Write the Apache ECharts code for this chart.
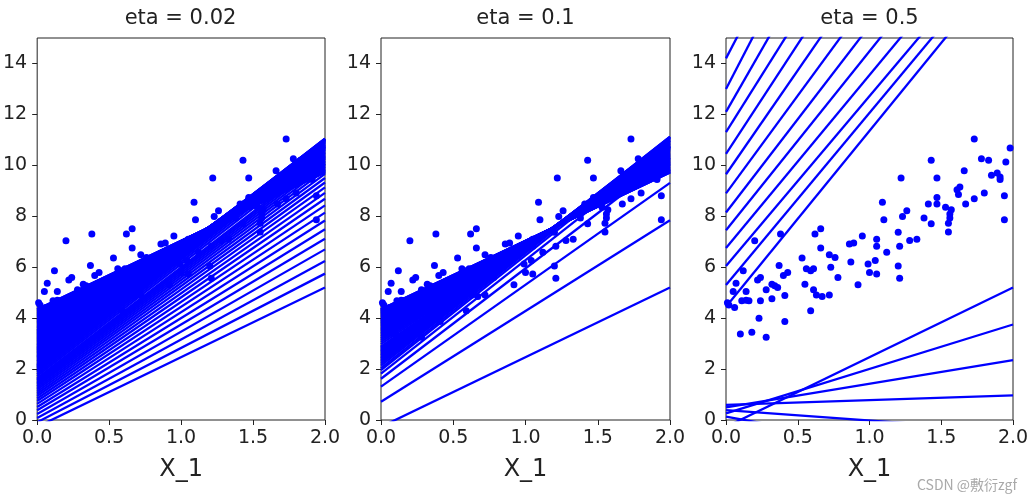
<!DOCTYPE html>
<html><head><meta charset="utf-8">
<script src="https://cdn.jsdelivr.net/npm/echarts@6/dist/echarts.min.js"></script>
<style>html,body{margin:0;padding:0;background:#fff}#c{width:1035px;height:496px}</style>
</head><body><div id="c"></div>
<script>
// ---- data ----
const panelTitles = ['eta = 0.02', 'eta = 0.1', 'eta = 0.5'];
const xTicks = [0, 0.5, 1, 1.5, 2];
const yTicks = [0, 2, 4, 6, 8, 10, 12, 14];
const pointX = [1.73,1.43,1.98,1.78,1.83,1.95,1.22,1.47,1.66,1.85,1.89,1.91,1.91,1.63,1.61,1.62,1.80,1.73,1.94,1.67,
  1.41,1.47,1.47,1.53,1.57,1.56,1.56,1.55,1.55,1.09,1.10,1.26,1.23,1.38,1.43,1.94,1.20,1.21,1.28,1.33,
  1.12,1.05,1.05,1.04,0.99,1.00,1.05,1.20,1.21,0.95,0.89,0.86,0.87,0.92,0.66,0.62,0.66,0.72,0.76,0.73,
  0.78,0.53,0.56,0.59,0.61,0.55,0.61,0.63,0.67,0.72,0.59,0.38,0.20,0.37,0.43,0.40,0.12,0.24,0.22,0.07,
  0.32,0.36,0.28,0.05,0.14,0.41,0.32,0.24,0.11,0.16,0.02,0.06,0.23,0.41,0.10,0.18,0.28,0.14,0.34,0.01];
const pointY = [11.03,10.20,10.68,10.26,10.20,10.13,9.50,9.50,9.79,9.61,9.70,9.54,9.44,9.15,9.04,8.85,8.91,8.69,8.81,8.48,
  8.48,8.74,8.48,8.35,8.26,8.09,7.93,7.73,7.38,8.55,7.86,8.22,7.99,7.93,7.71,7.86,7.37,6.82,7.05,7.10,
  6.59,7.10,6.82,6.26,6.13,5.79,5.73,6.05,5.57,7.23,6.95,6.91,6.20,5.31,7.51,7.30,6.75,6.49,6.38,6.00,
  5.60,6.36,5.94,5.86,5.94,5.33,5.11,4.91,4.85,4.91,4.29,7.30,7.04,6.07,5.79,5.67,5.86,5.60,5.50,5.37,
  5.33,5.20,5.11,5.05,5.05,4.89,4.76,4.68,4.68,4.68,4.52,4.42,4.00,3.87,3.38,3.45,3.25,4.70,5.27,4.60];
// each line: value at x = 0 (start) and value at x = 2 (end)
const eta002Start = [-0.270,-0.087,0.081,0.236,0.379,0.510,0.632,0.744,0.847,0.943,1.032,1.114,1.191,1.262,1.328,1.389,1.447,1.500,1.551,1.598,1.642,
  1.722,1.794,1.858,1.916,1.969,2.017,2.061,2.102,2.140,2.176,
  2.243,2.304,2.360,2.413,2.463,2.511,2.557,2.602,2.645,2.686,2.727,2.767,2.806,2.843,2.880,
  2.933,2.984,3.033,3.081,3.127,3.171,3.213,3.254,3.294,3.332,3.369,3.404,3.438,3.471,3.503,3.534,
  3.591,3.645,3.695,3.742,3.785,3.825,3.862,3.897,3.929,
  3.968,4.022,4.069,4.109,4.143,4.173,4.198,4.219,
  4.257,4.281,4.313,4.330,4.339,4.344];
const eta002End = [5.200,5.747,6.245,6.700,7.113,7.489,7.832,8.144,8.427,8.686,8.920,9.134,9.328,9.504,9.664,9.809,9.940,10.060,10.168,10.265,10.354,
  10.506,10.629,10.729,10.809,10.872,10.923,10.962,10.992,11.013,11.028,
  11.043,11.044,11.034,11.018,10.997,10.974,10.949,10.923,10.896,10.870,10.843,10.817,10.791,10.766,10.741,
  10.704,10.668,10.634,10.601,10.569,10.539,10.509,10.481,10.453,10.427,10.401,10.377,10.353,10.330,10.308,10.287,
  10.247,10.209,10.174,10.142,10.112,10.085,10.059,10.035,10.012,
  9.985,9.947,9.915,9.887,9.864,9.843,9.826,9.811,
  9.785,9.768,9.746,9.734,9.728,9.724];
const eta01Start = [-0.27,0.72,1.31,1.62,1.82,1.96,2.037,2.132,2.214,2.287,2.355,2.418,2.479,2.538,2.594,2.647,2.699,2.750,2.799,2.846,2.892,
  2.980,3.063,3.140,3.213,3.282,3.346,3.407,3.463,3.517,3.567,3.614,3.659,3.700,3.739,3.776,3.811,3.843,3.874,3.902,3.930,
  3.979,4.022,4.060,4.094,4.124,4.151,4.174,4.194,4.213,4.229,4.255,4.276,4.292,4.315,4.331,4.345,4.350];
const eta01End = [5.20,7.84,9.31,10.288,10.737,10.968,11.078,11.120,11.124,11.107,11.080,11.046,11.011,10.974,10.939,10.902,10.866,10.831,10.797,10.764,10.732,
  10.671,10.614,10.560,10.509,10.462,10.417,10.375,10.335,10.298,10.264,10.231,10.200,10.171,10.144,10.118,10.094,10.072,10.050,10.031,10.012,
  9.978,9.948,9.921,9.897,9.877,9.858,9.842,9.828,9.815,9.804,9.786,9.771,9.760,9.744,9.733,9.724,9.720];
const eta05Start = [-0.27,4.45,0.26,5.30,0.50,6.05,0.59,6.75,0.39,7.45,0.13,8.15,8.90,9.65,10.45,11.30,12.10,13.00,14.20];
const eta05End = [5.20,18.26,3.75,18.82,2.35,19.39,0.97,20.34,-0.43,21.51,-1.90,22.80,24.25,25.96,27.68,29.26,31.76,34.74,35.80];

// ---- chart ----
const lineSets = [[eta002Start, eta002End], [eta01Start, eta01End], [eta05Start, eta05End]];
const gridLefts = [36, 381, 726];
const gridWidths = [289, 289, 287];
const blue = '#0000ff';
const textColor = '#222';
const font = 'DejaVu Sans';

const option = {
  animation: false,
  backgroundColor: '#fff',
  title: panelTitles.map((t, i) => ({
    text: t, left: gridLefts[i] + gridWidths[i] / 2, top: 8, textAlign: 'center', padding: 0,
    textStyle: { fontSize: 21, fontWeight: 'normal', color: textColor, fontFamily: font }
  })),
  grid: gridLefts.map((l, i) => ({
    left: l, top: 38, width: gridWidths[i], height: 382, show: true,
    borderColor: '#222', borderWidth: 1, backgroundColor: 'transparent'
  })),
  xAxis: gridLefts.map((l, i) => ({
    type: 'value', gridIndex: i, min: 0, max: 2, interval: 0.5,
    name: 'X_1', nameLocation: 'middle', nameGap: 38,
    nameTextStyle: { fontSize: 24, color: textColor, fontFamily: font },
    axisLine: { show: false }, splitLine: { show: false },
    axisTick: { show: true, length: 5, lineStyle: { color: '#222' }, customValues: xTicks },
    axisLabel: { customValues: xTicks, formatter: v => v.toFixed(1), fontSize: 19, color: textColor, fontFamily: font, margin: 9 }
  })),
  yAxis: gridLefts.map((l, i) => ({
    type: 'value', gridIndex: i, min: 0, max: 15, interval: 2,
    axisLine: { show: false }, splitLine: { show: false },
    axisTick: { show: true, length: 5, lineStyle: { color: '#222' }, customValues: yTicks },
    axisLabel: { customValues: yTicks, fontSize: 19, color: textColor, fontFamily: font, margin: 10 }
  })),
  graphic: [{
    type: 'text', left: 917, top: 478,
    style: { text: 'CSDN @敷衍zgf', fill: 'rgba(160,160,160,0.9)', font: '14px "Noto Sans CJK SC"' }
  }],
  series: []
};

lineSets.forEach((set, p) => {
  const [s, e] = set;
  s.forEach((v, i) => {
    option.series.push({
      type: 'line', xAxisIndex: p, yAxisIndex: p, data: [[0, v], [2, e[i]]],
      symbol: 'none', silent: true, clip: true, z: 2,
      lineStyle: { color: blue, width: 2.3 }
    });
  });
  option.series.push({
    type: 'scatter', xAxisIndex: p, yAxisIndex: p, silent: true, z: 3,
    data: pointX.map((x, i) => [x, pointY[i]]), symbolSize: 7,
    itemStyle: { color: blue, opacity: 1 }
  });
});

const chart = echarts.init(document.getElementById('c'), null, { renderer: 'canvas' });
chart.setOption(option);
</script></body></html>
